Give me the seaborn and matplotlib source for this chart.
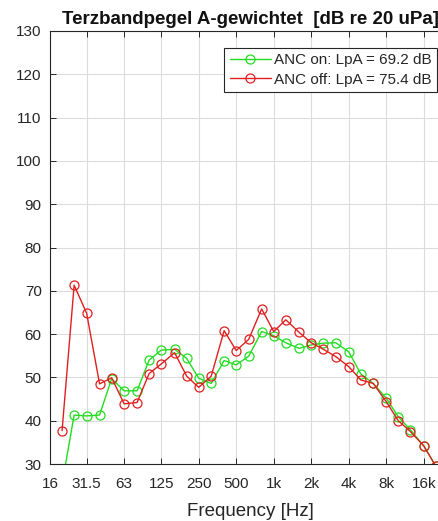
import numpy as np
import pandas as pd
import matplotlib
matplotlib.use("Agg")
import matplotlib.pyplot as plt
from matplotlib.ticker import NullLocator
import seaborn as sns

# Terzband-Mittenfrequenzen [Hz]
freqs = [20, 25, 31.5, 40, 50, 63, 80, 100, 125, 160, 200, 250, 315, 400, 500,
         630, 800, 1000, 1250, 1600, 2000, 2500, 3150, 4000, 5000, 6300, 8000,
         10000, 12500, 16000, 20000]

# Pegel A-gewichtet [dB]
anc_on = [25.4, 41.3, 41.1, 41.3, 49.7, 46.9, 46.9, 54.0, 56.3, 56.5, 54.4,
          49.8, 48.6, 53.9, 52.9, 54.9, 60.6, 59.6, 58.0, 56.7, 57.5, 57.9,
          58.0, 55.9, 50.8, 48.6, 45.2, 40.9, 37.9, 34.2, 29.5]
anc_off = [37.7, 71.3, 64.8, 48.5, 49.9, 43.9, 44.2, 50.9, 53.1, 55.7, 50.3,
           47.7, 50.3, 60.8, 56.2, 58.8, 65.8, 60.6, 63.3, 60.4, 58.0, 56.5,
           54.8, 52.5, 49.4, 48.6, 44.4, 40.0, 37.5, 34.2, 29.5]

labels = ["ANC on: LpA = 69.2 dB", "ANC off: LpA = 75.4 dB"]
colors = ["#22dd22", "#e02020"]

xticks = [16, 31.5, 63, 125, 250, 500, 1000, 2000, 4000, 8000, 16000]
xticklabels = ["16", "31.5", "63", "125", "250", "500", "1k", "2k", "4k", "8k", "16k"]
yticks = list(range(30, 131, 10))

sns.set_style("whitegrid")
plt.rcParams["font.family"] = ["Liberation Sans", "DejaVu Sans"]

fig = plt.figure(figsize=(4.39, 5.21), dpi=100)
# Achse reicht rechts ueber das Bild hinaus (Original ist beschnitten)
ax = fig.add_axes([50 / 439, 1 - 464 / 521, (450 - 50) / 439, (464 - 31) / 521])

for vals, lab, col in zip([anc_on, anc_off], labels, colors):
    df = pd.DataFrame({"freq": freqs, "level": vals})
    sns.lineplot(data=df, x="freq", y="level", ax=ax, color=col, label=lab,
                 marker="o", markersize=6.5, markerfacecolor="none",
                 markeredgecolor=col, markeredgewidth=0.9, linewidth=1.0)

ax.set_xscale("log")
ax.set_xlim(16, 26000)
ax.set_ylim(30, 130)
ax.set_xticks(xticks)
ax.set_xticklabels(xticklabels)
ax.xaxis.set_minor_locator(NullLocator())
ax.set_yticks(yticks)

ax.grid(True, color="#dcdcdc", linewidth=0.8)
for sp in ax.spines.values():
    sp.set_color("#262626")
    sp.set_linewidth(0.8)
ax.tick_params(axis="both", which="major", direction="in", length=4, width=0.7,
               color="#262626", labelsize=11, labelcolor="#262626",
               top=True, right=True, bottom=True, left=True)
ax.tick_params(axis="y", pad=6)
ax.tick_params(axis="x", pad=9)

ax.set_xlabel("Frequency [Hz]", fontsize=13.5, color="#262626", labelpad=9)
ax.set_ylabel("")
ax.set_title("Terzbandpegel A-gewichtet  [dB re 20 uPa]", fontsize=13.5,
             fontweight="bold", color="#111111", pad=5)

leg = ax.legend(loc="upper right", bbox_to_anchor=(437 / 439, 1 - 48 / 521),
                bbox_transform=fig.transFigure, fontsize=11, frameon=True,
                fancybox=False, edgecolor="#262626", framealpha=1,
                handlelength=2.7, handletextpad=0.2, labelspacing=0.35,
                borderpad=0.35, borderaxespad=0)
leg.get_frame().set_linewidth(0.8)

fig.savefig("out.png", dpi=100)
